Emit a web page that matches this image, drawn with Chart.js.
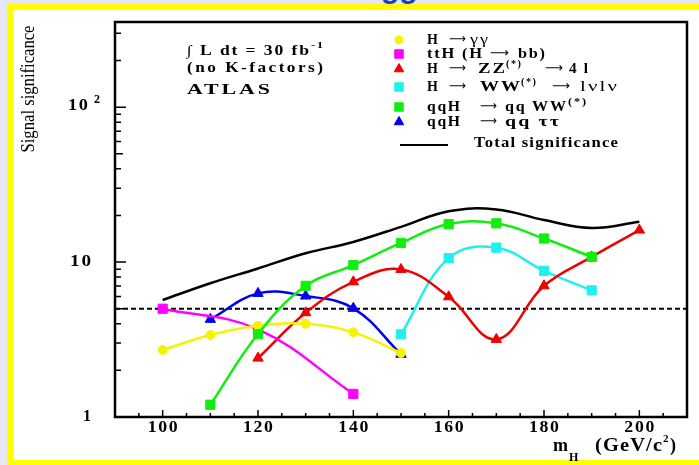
<!DOCTYPE html>
<html lang="en">
<head>
<meta charset="UTF-8" />
<title>Signal significance</title>
<script src="https://cdn.jsdelivr.net/npm/chart.js@4.4.1/dist/chart.umd.min.js"></script>
<style>
  html, body { margin: 0; padding: 0; }
  body { width: 699px; height: 465px; background: #e6e6f7; position: relative; overflow: hidden; }
  #frame { position: absolute; left: 7px; top: 4px; width: 692px; height: 461px; box-sizing: border-box;
           background: #fff; border-left: 6px solid #ffff00; border-top: 6px solid #ffff00; border-bottom: 5px solid #ffff00; }
  #title { position: absolute; left: 381px; top: 0; width: 45px; height: 5px; overflow: hidden; }
  #title span { display: block; font: bold 30px "Liberation Sans", Arial, sans-serif; color: #1c3fd2;
                line-height: 30px; margin-top: -27px; }
  #c { position: absolute; left: 0; top: 0; }
</style>
</head>
<body>
<div id="frame"></div>
<div id="title"><span>gg</span></div>
<canvas id="c" width="699" height="465"></canvas>
<script>
// values (signal significance vs m_H)
const massGamma = [100, 110, 120, 130, 140, 150];
const sigGamma = [2.71, 3.38, 3.88, 4.0, 3.52, 2.59];

const massTtH = [100, 120, 140];
const sigTtH = [5.0, 3.68, 1.41];

const massZZ = [120, 130, 140, 150, 160, 170, 180, 190, 200];
const sigZZ = [2.40, 4.71, 7.46, 8.97, 5.97, 3.17, 7.03, 10.8, 16.1];

const massWW = [150, 160, 170, 180, 190];
const sigWW = [3.42, 10.6, 12.4, 8.79, 6.57];

const massQqWW = [110, 120, 130, 140, 150, 160, 170, 180, 190];
const sigQqWW = [1.20, 3.43, 7.03, 9.56, 13.3, 17.6, 17.8, 14.2, 10.8];

const massQqTau = [110, 120, 130, 140, 150];
const sigQqTau = [4.27, 6.28, 6.04, 5.03, 2.54];

const massTotal = [100, 110, 120, 130, 140, 150, 160, 170, 180, 190, 200];
const sigTotal = [5.69, 7.3, 9.1, 11.4, 13.5, 16.9, 21.3, 21.9, 18.7, 16.6, 18.2];

const discoveryLevel = 5;

const xTickLabels = [100, 120, 140, 160, 180, 200];
const yTickLabels = [1, 10, 100];

const SERIF = '"Liberation Serif", "Times New Roman", serif';
const ARROW = '\u27F6';

function series(label, xs, ys, color, style, radius) {
  return {
    label: label,
    data: xs.map((x, i) => ({ x: x, y: ys[i] })),
    borderColor: color,
    backgroundColor: color,
    borderWidth: 2.5,
    pointStyle: style,
    pointRadius: radius,
    pointBorderWidth: 1,
    tension: 0.4
  };
}

// left-aligned text; if a width is given it is reached with a little
// letter spacing and then a horizontal stretch (the old PostScript look)
function txt(ctx, s, x, y, font, w, ls) {
  ctx.save();
  ctx.font = font;
  ctx.letterSpacing = '0px';
  ctx.textAlign = 'left';
  ctx.textBaseline = 'middle';
  const n = [...s].length;
  const space = ls === undefined ? 1.5 : ls;
  let sx = 1;
  if (w) {
    const m = ctx.measureText(s).width + space * (n - 1);
    sx = w / m;
    ctx.letterSpacing = space + 'px';
  }
  ctx.translate(x, y);
  ctx.scale(sx, 1);
  ctx.fillText(s, 0, 0);
  ctx.restore();
}

const decor = {
  id: 'decor',
  afterDatasetsDraw(chart) {
    const ctx = chart.ctx;
    const a = chart.chartArea;
    const xs = chart.scales.x, ys = chart.scales.y;
    ctx.save();
    ctx.fillStyle = '#000';
    ctx.strokeStyle = '#000';

    // frame
    ctx.lineWidth = 2.5;
    ctx.strokeRect(a.left, a.top, a.right - a.left, a.bottom - a.top);

    // inward ticks
    ctx.lineWidth = 1.5;
    ctx.beginPath();
    for (let v = 90; v <= 210; v += 5) {
      const px = xs.getPixelForValue(v);
      const len = v % 20 === 0 ? 7 : 4;
      ctx.moveTo(px, a.bottom);
      ctx.lineTo(px, a.bottom - len);
    }
    for (const d of yTickLabels) {
      for (let k = 1; k <= 9; k++) {
        const v = k * d;
        if (v > ys.max) break;
        const py = ys.getPixelForValue(v);
        const len = k === 1 ? 11 : (k === 5 ? 8 : 6);
        ctx.moveTo(a.left, py);
        ctx.lineTo(a.left + len, py);
      }
    }
    ctx.stroke();

    // x tick labels
    const bold16 = 'bold 16px ' + SERIF;
    for (const v of xTickLabels) {
      const px = xs.getPixelForValue(v);
      txt(ctx, String(v), px - 15, a.bottom + 11, bold16, 30);
    }
    // y tick labels
    let py = ys.getPixelForValue(1);
    txt(ctx, '1', 83, py, bold16);
    py = ys.getPixelForValue(10);
    txt(ctx, '10', 70, py, bold16, 21);
    py = ys.getPixelForValue(100);
    txt(ctx, '10', 68, py - 1, bold16, 20);
    txt(ctx, '2', 94, py - 7, 'bold 12px ' + SERIF);

    // axis titles
    ctx.save();
    ctx.translate(29, 89);
    ctx.rotate(-Math.PI / 2);
    ctx.font = '18px ' + SERIF;
    const tw = ctx.measureText('Signal significance').width;
    ctx.scale(127 / tw, 1);
    ctx.textAlign = 'center';
    ctx.textBaseline = 'middle';
    ctx.fillText('Signal significance', 0, 0);
    ctx.restore();

    txt(ctx, 'm', 553, 446, 'bold 18px ' + SERIF);
    txt(ctx, 'H', 569, 458, 'bold 12px ' + SERIF);
    txt(ctx, '(GeV/c', 595, 446, 'bold 18px ' + SERIF, 67, 1);
    txt(ctx, '2', 663, 439, 'bold 11px ' + SERIF);
    txt(ctx, ')', 670, 446, 'bold 18px ' + SERIF);

    // annotation
    const bold14 = 'bold 14px ' + SERIF;
    txt(ctx, '\u222B L dt = 30 fb', 187, 51, bold14, 122);
    txt(ctx, '-1', 311, 46, 'bold 9px ' + SERIF, 12, 1);
    txt(ctx, '(no K-factors)', 187, 68, bold14, 136, 2);
    txt(ctx, 'ATLAS', 187, 90, 'bold 15px ' + SERIF, 83, 2);

    // legend
    const b14 = 'bold 14px ' + SERIF;
    const n14 = '14px ' + SERIF;
    const arr = '13px "DejaVu Sans", sans-serif';
    const sup = 'bold 10px ' + SERIF;
    const rows = [
      [40, [['H', 427, b14], [ARROW, 449, arr, 17], ['\u03B3\u03B3', 470, n14, 18]]],
      [54, [['ttH (H', 427, b14, 55], [ARROW, 490, arr, 19], ['bb)', 518, b14, 27]]],
      [69, [['H', 427, b14], [ARROW, 449, arr, 17], ['ZZ', 478, b14, 27], ['(*)', 506, sup, 15, -5],
            [ARROW, 545, arr, 18], ['4 l', 569, b14, 19]]],
      [87, [['H', 427, b14], [ARROW, 449, arr, 17], ['WW', 480, b14, 40], ['(*)', 521, sup, 15, -5],
            [ARROW, 552, arr, 18], ['l\u03BDl\u03BD', 580, n14, 37]]],
      [107, [['qqH', 427, b14, 33], [ARROW, 480, arr, 17], ['qq WW', 505, b14, 61], ['(*)', 568, sup, 18, -5]]],
      [122, [['qqH', 427, b14, 33], [ARROW, 480, arr, 17], ['qq \u03C4\u03C4', 505, b14, 54]]],
      [143, [['Total significance', 474, b14, 144, 1]]]
    ];
    for (const [ry, segs] of rows) {
      for (const s of segs) {
        const off = s.length > 4 && s[4] < 0 ? s[4] : 0;
        const ls = s.length > 4 && s[4] > 0 ? s[4] : undefined;
        txt(ctx, s[0], s[1], ry + off, s[2], s[3], ls);
      }
    }
    const ds = chart.data.datasets;
    for (let i = 0; i < 6; i++) {
      const d = ds[i];
      ctx.fillStyle = d.backgroundColor;
      ctx.strokeStyle = d.borderColor;
      ctx.lineWidth = 1;
      Chart.helpers.drawPoint(ctx, { pointStyle: d.pointStyle, radius: d.pointRadius - 0.5, rotation: 0, borderWidth: 1 },
        399, rows[i][0]);
    }
    ctx.strokeStyle = '#000';
    ctx.lineWidth = 2;
    ctx.beginPath();
    ctx.moveTo(400, rows[6][0] + 2);
    ctx.lineTo(448, rows[6][0] + 2);
    ctx.stroke();

    ctx.restore();
  }
};

const datasets = [
  series('H \u2192 \u03B3\u03B3', massGamma, sigGamma, '#f4f400', 'circle', 4.5),
  series('ttH (H \u2192 bb)', massTtH, sigTtH, '#ff00ff', 'rect', 6.5),
  series('H \u2192 ZZ(*) \u2192 4 l', massZZ, sigZZ, '#f00000', 'triangle', 6),
  series('H \u2192 WW(*) \u2192 l\u03BDl\u03BD', massWW, sigWW, '#20f0f0', 'rect', 6.5),
  series('qqH \u2192 qq WW(*)', massQqWW, sigQqWW, '#10ee10', 'rect', 6.5),
  series('qqH \u2192 qq \u03C4\u03C4', massQqTau, sigQqTau, '#0000f0', 'triangle', 6),
  {
    label: 'Total significance',
    data: massTotal.map((x, i) => ({ x: x, y: sigTotal[i] })),
    borderColor: '#000', borderWidth: 2.5, pointRadius: 0, tension: 0.4
  },
  {
    label: '5 sigma',
    data: [{ x: 90, y: discoveryLevel }, { x: 210, y: discoveryLevel }],
    borderColor: '#000', borderWidth: 2, borderDash: [5, 3], pointRadius: 0
  }
];
datasets[4].order = -1;

new Chart(document.getElementById('c'), {
  type: 'line',
  data: { datasets: datasets },
  options: {
    responsive: false,
    animation: false,
    devicePixelRatio: 1,
    layout: { padding: { top: 22, right: 12, left: 0, bottom: 0 } },
    plugins: { legend: { display: false }, tooltip: { enabled: false } },
    scales: {
      x: {
        type: 'linear', min: 90, max: 210,
        ticks: { display: false }, grid: { display: false }, border: { display: false },
        afterFit(s) { s.height = 48; }
      },
      y: {
        type: 'logarithmic', min: 1, max: 355,
        ticks: { display: false }, grid: { display: false }, border: { display: false },
        afterFit(s) { s.width = 115; }
      }
    }
  },
  plugins: [decor]
});
</script>
</body>
</html>
